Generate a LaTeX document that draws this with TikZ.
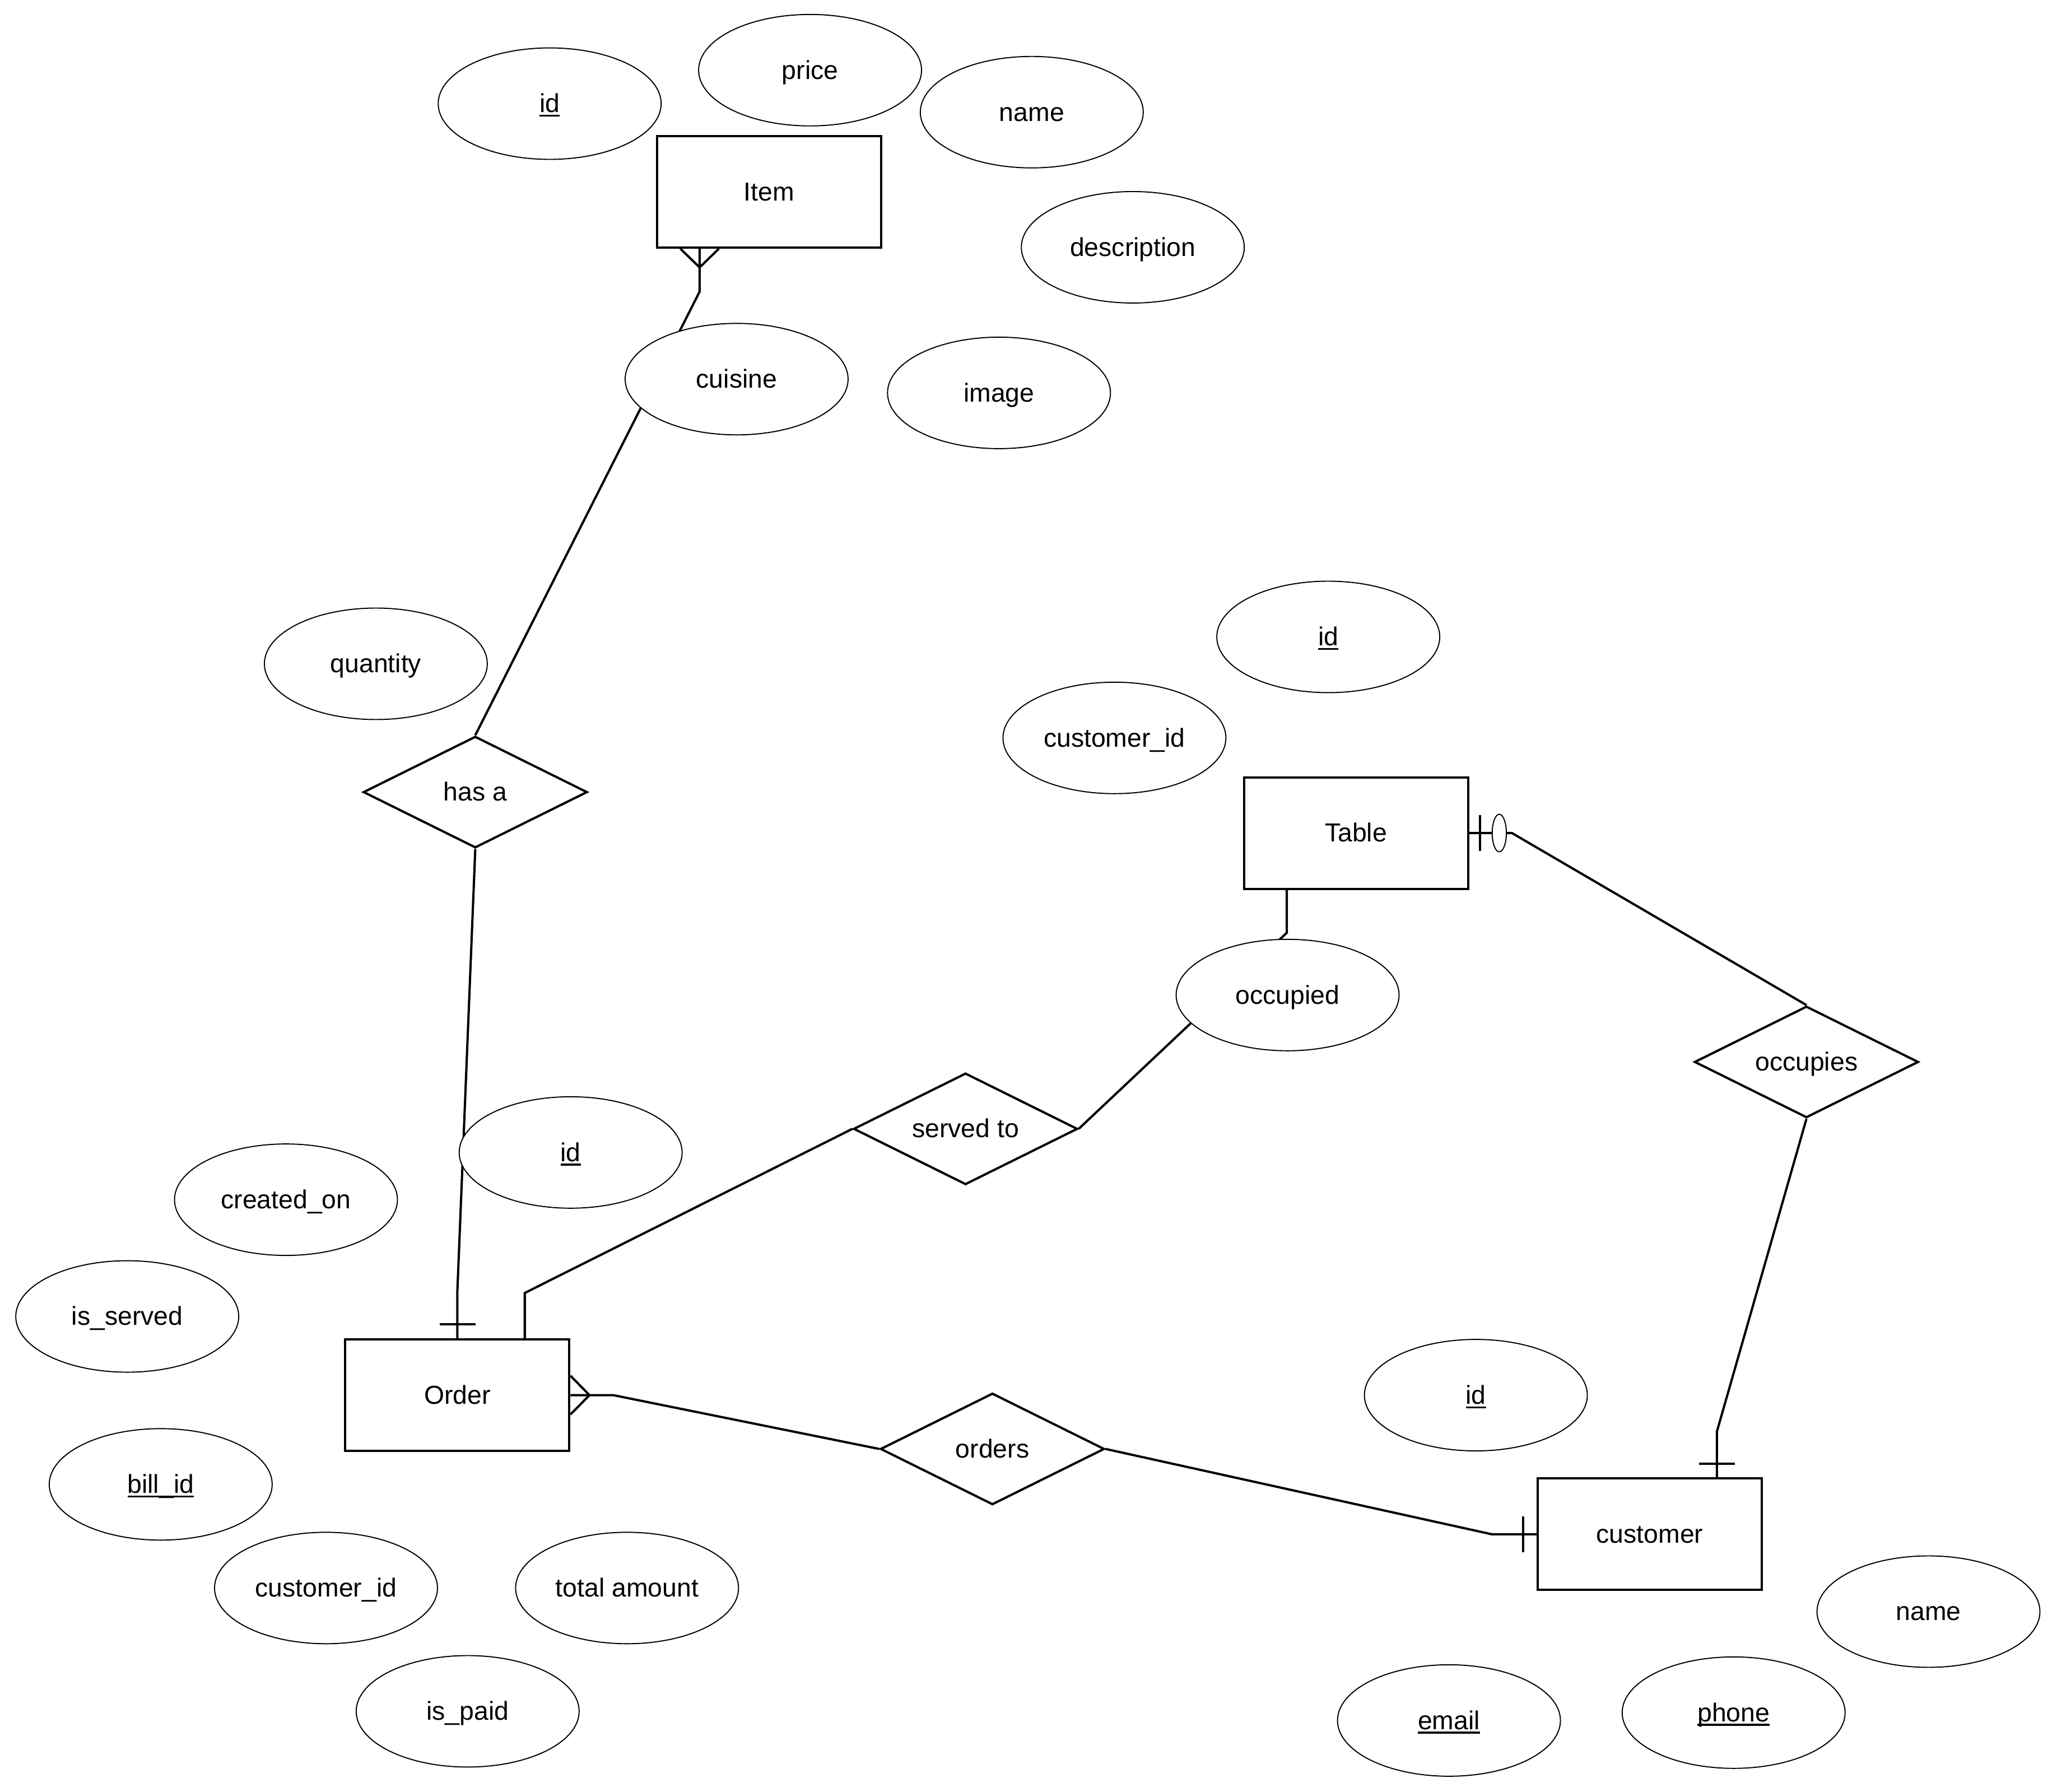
\documentclass[tikz,border=0pt]{standalone}
\usepackage{fontspec}
\setmainfont{Liberation Sans}
\usetikzlibrary{shapes.geometric,calc}
\pgfdeclarelayer{bg}
\pgfsetlayers{bg,main}
\newcommand{\pk}[1]{\setbox0=\hbox{#1}\rlap{\vrule width\wd0 height -0.09em depth 0.16em}\box0}
\begin{document}
\begin{tikzpicture}[x=0.02342cm,y=-0.02342cm,
  every node/.style={font=\fontsize{13.2pt}{15.8pt}\selectfont, inner sep=0pt, text height=9pt, text depth=0pt},
  attr/.style={ellipse, draw, fill=white, line width=0.55pt, minimum width=3.98cm, minimum height=1.99cm},
  entity/.style={rectangle, draw, fill=white, line width=1.15pt, minimum width=4.0cm, minimum height=1.99cm},
  rel/.style={diamond, draw, fill=white, line width=1.15pt, aspect=2, minimum width=4.0cm, minimum height=1.99cm},
  conn/.style={line width=1.15pt},
  cardmark/.style={line width=1.15pt}
]
\useasboundingbox (0,0) rectangle (1568,1366);
% entities
\node[entity] (item) at (586.1,146.2) {Item};
\node[entity] (table) at (1033.6,635) {Table};
\node[entity] (order) at (348.6,1063.5) {Order};
\node[entity] (cust) at (1257.5,1169.5) {customer};
% relationships
\node[rel] (hasa) at (362.3,603.8) {has a};
\node[rel] (servedto) at (736,860.5) {served to};
\node[rel] (occupies) at (1377,809.5) {occupies};
\node[rel] (orders) at (756.5,1104.5) {orders};
% attributes
\node[attr] (idItem) at (419,79) {\pk{id}};
\node[attr] (price) at (617.5,53.5) {price};
\node[attr] (nameItem) at (786.5,85.5) {name};
\node[attr] (description) at (863.5,188.5) {description};
\node[attr] (cuisine) at (561.5,289) {cuisine};
\node[attr] (image) at (761.5,299.5) {image};
\node[attr] (quantity) at (286.5,506) {quantity};
\node[attr] (idTable) at (1012.5,485.5) {\pk{id}};
\node[attr] (custidTable) at (849.5,562.5) {customer\_id};
\node[attr] (occupied) at (981.5,758.5) {occupied};
\node[attr] (idOrder) at (435,878.5) {\pk{id}};
\node[attr] (createdon) at (218,914.5) {created\_on};
\node[attr] (isserved) at (97,1003.5) {is\_served};
\node[attr] (billid) at (122.5,1131.5) {\pk{bill\_id}};
\node[attr] (custidOrder) at (248.5,1210.5) {customer\_id};
\node[attr] (totalamount) at (478,1210.5) {total amount};
\node[attr] (ispaid) at (356.5,1304.5) {is\_paid};
\node[attr] (idCust) at (1125,1063.5) {\pk{id}};
\node[attr] (nameCust) at (1470,1228.5) {name};
\node[attr] (email) at (1104.5,1311.5) {\pk{email}};
\node[attr] (phone) at (1321.5,1305.5) {\pk{phone}};
% bend points
\coordinate (b1) at (533.3,222.3);
\coordinate (b2) at (348.6,985);
\coordinate (b3) at (400,985.6);
\coordinate (b4) at (980.9,711);
\coordinate (b5) at (1152.5,635);
\coordinate (b6) at (1308.7,1091.4);
\coordinate (b7) at (467.5,1063.5);
\coordinate (b8) at (1137,1169.5);
\coordinate (s1) at (item.south -| b1);
\coordinate (s3) at (order.north -| b3);
\coordinate (s4) at (table.south -| b4);
\coordinate (s6) at (cust.north -| b6);
\begin{pgfonlayer}{bg}
\draw[conn] (s1) -- (b1) -- (hasa.north);
\draw[conn] (hasa.south) -- (b2) -- (order.north);
\draw[conn] (s3) -- (b3) -- (servedto.west);
\draw[conn] (s4) -- (b4) -- (servedto.east);
\draw[conn] (table.east) -- (b5) -- (occupies.north);
\draw[conn] (occupies.south) -- (b6) -- (s6);
\draw[conn] (order.east) -- (b7) -- (orders.west);
\draw[conn] (orders.east) -- (b8) -- (cust.west);
\end{pgfonlayer}
% markers
\draw[cardmark] ($(s1)+(-14.7,0)$) -- ($(s1)+(0,14.3)$) -- ($(s1)+(14.7,0)$);
\draw[cardmark] ($(order.north)+(-13.6,-10.6)$) -- ($(order.north)+(13.9,-10.6)$);
\draw[cardmark] ($(order.east)+(0,-14.8)$) -- ($(order.east)+(14.5,0)$) -- ($(order.east)+(0,14.7)$);
\draw[cardmark] ($(table.east)+(8.5,-13.5)$) -- ($(table.east)+(8.5,13.5)$);
\draw[line width=0.55pt, fill=white] ($(table.east)+(23,0)$) ellipse [x radius=5.4, y radius=14.3];
\draw[cardmark] ($(s6)+(-13.7,-10.3)$) -- ($(s6)+(13.7,-10.3)$);
\draw[cardmark] ($(cust.west)+(-10.3,-13.6)$) -- ($(cust.west)+(-10.3,13.6)$);
\end{tikzpicture}
\end{document}
